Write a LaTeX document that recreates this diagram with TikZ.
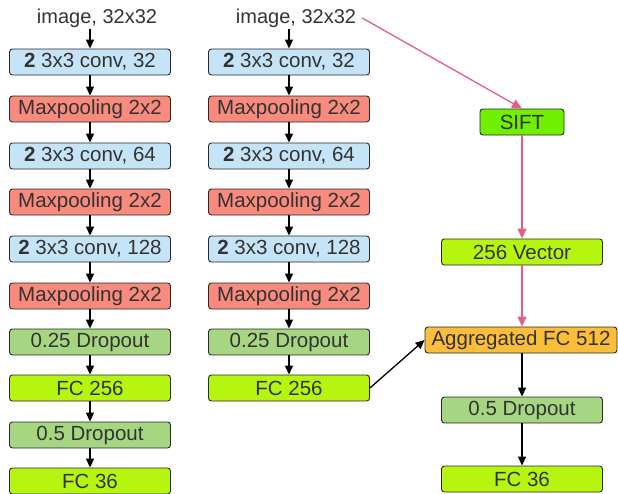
\documentclass[tikz,border=0pt]{standalone}
\usepackage{fontspec}
\setmainfont{Liberation Sans}
\usetikzlibrary{arrows.meta}
\definecolor{cblue}{HTML}{C5E4F7}
\definecolor{cred}{HTML}{F88A7E}
\definecolor{cdrop}{HTML}{A6D681}
\definecolor{cfc}{HTML}{B6F510}
\definecolor{csift}{HTML}{70F000}
\definecolor{corange}{HTML}{FBBE3A}
\definecolor{cpink}{HTML}{E0608A}
\definecolor{ctext}{HTML}{333333}
\tikzset{
  blk/.style={draw=ctext!80!black, line width=0.9pt, rounded corners=3pt, minimum width=161pt, minimum height=26pt, inner sep=0pt, text=ctext, font=\fontsize{20.5}{22}\selectfont},
  conv/.style={blk, fill=cblue},
  pool/.style={blk, fill=cred},
  drop/.style={blk, fill=cdrop},
  fc/.style={blk, fill=cfc},
  lbl/.style={text=ctext, font=\fontsize{20}{22}\selectfont, inner sep=1pt},
  arr/.style={-{Triangle[length=9pt,width=8pt]}, line width=1.3pt},
  parr/.style={-{Triangle[length=10pt,width=9pt]}, line width=1.3pt, draw=cpink, fill=cpink}
}
\begin{document}
\begin{tikzpicture}[x=1pt,y=-1pt]
\useasboundingbox (0,0) rectangle (618,493);
\foreach \c/\x in {a/90, b/289} {
  \node[lbl] (\c0) at (\x+7,18) {image, 32x32};
  \node[conv] (\c1) at (\x,62) {\textbf{2} 3x3 conv, 32};
  \node[pool] (\c2) at (\x,109) {Maxpooling 2x2};
  \node[conv] (\c3) at (\x,156) {\textbf{2} 3x3 conv, 64};
  \node[pool] (\c4) at (\x,202) {Maxpooling 2x2};
  \node[conv] (\c5) at (\x,249) {\textbf{2} 3x3 conv, 128};
  \node[pool] (\c6) at (\x,296) {Maxpooling 2x2};
  \node[drop] (\c7) at (\x,342) {0.25 Dropout};
  \node[fc] (\c8) at (\x,388) {FC 256};
  \draw[arr] (\c0.south -| \c1.north) -- (\c1);
  \foreach \i [evaluate=\i as \j using int(\i+1)] in {1,...,7}
    \draw[arr] (\c\i) -- (\c\j);
}
\node[drop] (a9) at (90,435) {0.5 Dropout};
\node[fc] (a10) at (90,481) {FC 36};
\draw[arr] (a8) -- (a9);
\draw[arr] (a9) -- (a10);

\node[blk, fill=csift, minimum width=84pt] (sift) at (522,122) {SIFT};
\node[blk, fill=cfc] (vec) at (522,252) {256 Vector};
\node[blk, fill=corange, minimum width=192pt] (agg) at (521,340) {Aggregated FC 512};
\node[drop] (d2) at (522,410) {0.5 Dropout};
\node[fc] (f2) at (522,479) {FC 36};

\draw[parr] ([xshift=5pt]b0.east) -- (sift.north);
\draw[parr] (sift) -- (vec);
\draw[parr] (vec.south) -- (vec.south |- agg.north);
\draw[arr] (b8.east) -- (agg.west);
\draw[arr] (d2.north |- agg.south) -- (d2);
\draw[arr] (d2) -- (f2);
\end{tikzpicture}
\end{document}
